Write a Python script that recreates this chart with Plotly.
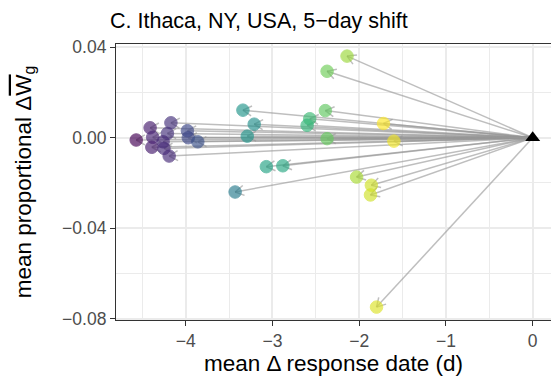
import math
import plotly.graph_objects as go

# ---- data ----
resp_date = [-2.14, -2.37, -3.34, -2.39, -3.21, -2.57, -2.60, -1.72, -3.29, -2.37,
             -1.60, -3.07, -2.88, -2.03, -1.86, -1.87, -3.43, -1.80,
             -4.57, -4.41, -4.38, -4.39, -4.17, -4.21, -4.26, -4.25, -4.19,
             -3.98, -3.97, -3.86]
prop_w = [0.0361, 0.0294, 0.0122, 0.0120, 0.0060, 0.0084, 0.0055, 0.0063, 0.0007, -0.0004,
          -0.0015, -0.0128, -0.0124, -0.0174, -0.0210, -0.0253, -0.0240, -0.0749,
          -0.0010, 0.0044, 0.0002, -0.0042, 0.0066, 0.0019, -0.0018, -0.0047, -0.0081,
          0.0031, 0.0000, -0.0018]
color_val = [0.85, 0.78, 0.52, 0.75, 0.50, 0.68, 0.66, 1.00, 0.52, 0.76,
             0.98, 0.58, 0.60, 0.87, 0.93, 0.93, 0.42, 0.95,
             0.00, 0.08, 0.10, 0.08, 0.14, 0.14, 0.12, 0.12, 0.12,
             0.22, 0.22, 0.25]
origin = (0.0, 0.0)
x_ticks = [-4, -3, -2, -1, 0]
y_ticks = [-0.08, -0.04, 0.00, 0.04]

# ---- layout geometry ----
W, H = 551, 382
ML, MR, MT, MB = 116, 0, 44, 62
xr = [-4.803, 0.211]
yr = [-0.0806, 0.04146]
sx = (W - ML - MR) / (xr[1] - xr[0])
sy = (H - MT - MB) / (yr[1] - yr[0])

fig = go.Figure()

# arrow shafts
lx, ly = [], []
for x, y in zip(resp_date, prop_w):
    lx += [origin[0], x, None]
    ly += [origin[1], y, None]
# open arrow heads (computed in pixel space, converted back to data units)
head_len, head_ang = 10.0, math.radians(30)
hx, hy = [], []
for x, y in zip(resp_date, prop_w):
    dxp = (origin[0] - x) * sx
    dyp = (origin[1] - y) * sy
    a = math.atan2(dyp, dxp)
    for s in (1, -1):
        aa = a + s * head_ang
        hx += [x + head_len * math.cos(aa) / sx, x, None]
        hy += [y + head_len * math.sin(aa) / sy, y, None]

line_col = "rgba(150,150,150,0.62)"
fig.add_trace(go.Scatter(x=lx, y=ly, mode="lines", line=dict(color=line_col, width=1.5),
                         hoverinfo="skip", showlegend=False))
fig.add_trace(go.Scatter(x=hx, y=hy, mode="lines", line=dict(color=line_col, width=1.5),
                         hoverinfo="skip", showlegend=False))

fig.add_trace(go.Scatter(
    x=resp_date, y=prop_w, mode="markers", showlegend=False,
    marker=dict(size=12.5, color=color_val, colorscale="Viridis", cmin=0, cmax=1,
                opacity=0.66,
                line=dict(width=1, color=color_val, colorscale="Viridis", cmin=0, cmax=1)),
))
fig.add_trace(go.Scatter(x=[origin[0]], y=[origin[1]], mode="markers", showlegend=False,
                         marker=dict(symbol="triangle-up", size=13, color="black")))

axis_common = dict(
    showline=True, linecolor="#333333", linewidth=1.2, mirror=True,
    ticks="outside", ticklen=5, tickwidth=1.2, tickcolor="#333333",
    showgrid=True, gridcolor="#ebebeb", gridwidth=1.5, zeroline=False,
    tickfont=dict(size=17.5, color="#4d4d4d"),
)

fig.update_layout(
    width=W, height=H,
    margin=dict(l=ML, r=MR, t=MT, b=MB),
    plot_bgcolor="white", paper_bgcolor="white",
    font=dict(family="Liberation Sans, Arial, sans-serif", color="black"),
    title=dict(text="C. Ithaca, NY, USA, 5\u2212day shift", x=110 / W, xanchor="left",
               xref="container", y=1 - 20 / H, yanchor="middle", yref="container",
               font=dict(size=21.5, color="black")),
    xaxis=dict(range=xr, tickvals=x_ticks, **axis_common,
               minor=dict(dtick=0.5, tick0=0, showgrid=True, gridcolor="#ebebeb", gridwidth=1.2),
               title=dict(text="mean \u0394 response date (d)", font=dict(size=22.5), standoff=4)),
    yaxis=dict(range=yr, tickvals=y_ticks, tickformat=".2f", **axis_common,
               minor=dict(dtick=0.02, tick0=0, showgrid=True, gridcolor="#ebebeb", gridwidth=1.2),
               title=dict(text="mean proportional \u0394<span style='text-decoration:overline'>W</span><sub>g</sub>",
                          font=dict(size=22.5), standoff=24)),
)

fig.write_html("out.html")
